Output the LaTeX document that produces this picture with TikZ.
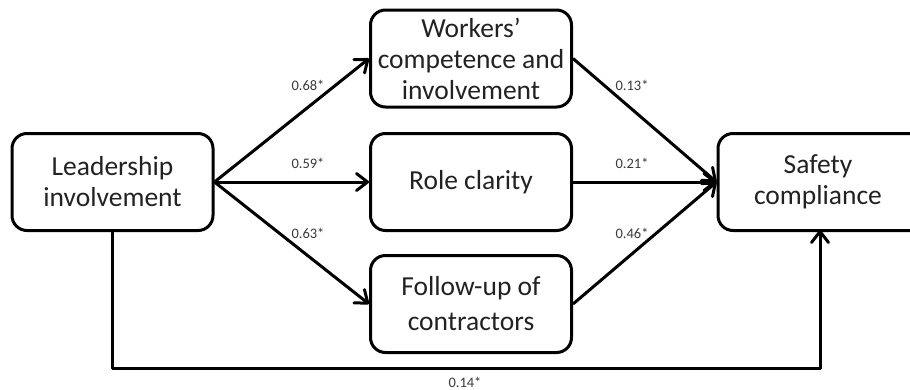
\documentclass[tikz,border=0pt]{standalone}
\usepackage{fontspec}
\setmainfont{Carlito}
\usetikzlibrary{arrows.meta}
\definecolor{boxtext}{HTML}{222222}
\definecolor{labtext}{HTML}{3A3A3A}
\tikzset{
  varbox/.style={draw=black, line width=3pt, rounded corners=15pt,
    minimum width=201pt, minimum height=97pt, inner sep=0pt,
    align=center, text=boxtext, font=\fontsize{27.5}{31}\selectfont},
  path/.style={draw=black, line width=3pt,
    -{Straight Barb[length=11pt,width=17pt,line cap=round,line join=round]}},
  coef/.style={text=labtext, font=\fontsize{14.5}{16}\selectfont, inner sep=0pt}
}
\begin{document}
\begin{tikzpicture}[x=1pt,y=-1pt]
\clip (0,0) rectangle (910,389);
\fill[white] (0,0) rectangle (910,389);
\node[varbox] (lead) at (112.5,182) {Leadership\\involvement};
\node[varbox] (work) at (471,58.5) {Workers’\\competence and\\involvement};
\node[varbox] (role) at (471,182) {Role clarity};
\node[varbox, font=\fontsize{27.5}{35}\selectfont] (follow) at (471,304) {Follow-up of\\contractors};
\node[varbox, minimum width=212pt] (safe) at (824,182) {Safety\hspace*{12pt}\\compliance\hspace*{12pt}};
\coordinate (bl) at (112.5,368);
\coordinate (br) at (820,368);
\coordinate (st) at (820,230);
\draw[path] (lead.east) -- (work.west);
\draw[path] (lead.east) -- (role.west);
\draw[path] (lead.east) -- (follow.west);
\draw[path] (work.east) -- (safe.west);
\draw[path] (role.east) -- (safe.west);
\draw[path] (follow.east) -- (safe.west);
\draw[path, line join=round] (lead.south) -- (bl) -- (br) -- (st);
\node[coef] (c1) at (308,85) {0.68*};
\node[coef] (c2) at (308,163) {0.59*};
\node[coef] (c3) at (308,233) {0.63*};
\node[coef] (c4) at (632,85) {0.13*};
\node[coef] (c5) at (632,163) {0.21*};
\node[coef] (c6) at (632,233) {0.46*};
\node[coef] (c7) at (465,382) {0.14*};
\end{tikzpicture}
\end{document}
